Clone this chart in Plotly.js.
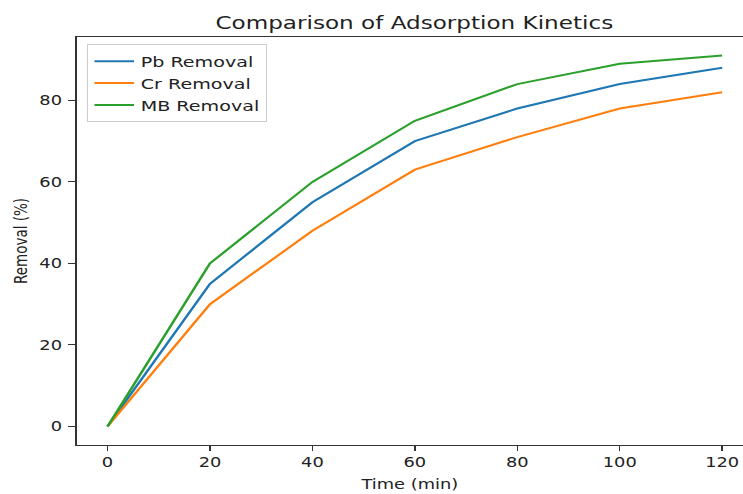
<!DOCTYPE html>
<html>
<head>
<meta charset="utf-8">
<script src="https://cdn.plot.ly/plotly-3.0.1.min.js"></script>
<style>
  html, body { margin: 0; padding: 0; background: #fff; overflow: hidden; }
  #wrap { width: 743px; height: 494px; overflow: hidden; }
  #chart { width: 563px; height: 494px; transform: scaleX(1.32); transform-origin: 0 0; }
</style>
</head>
<body>
<div id="wrap"><div id="chart"></div></div>
<script>
const time = [0, 20, 40, 60, 80, 100, 120];
const pbRemoval = [0, 35, 55, 70, 78, 84, 88];
const crRemoval = [0, 30, 48, 63, 71, 78, 82];
const mbRemoval = [0, 40, 60, 75, 84, 89, 91];
const seriesNames = ['Pb Removal', 'Cr Removal', 'MB Removal'];
const seriesColors = ['#1f77b4', '#ff7f0e', '#2ca02c'];
const xTicks = [0, 20, 40, 60, 80, 100, 120];
const yTicks = [0, 20, 40, 60, 80];

const FONT = 'DejaVu Sans, sans-serif';
const values = [pbRemoval, crRemoval, mbRemoval];
const traces = values.map((v, i) => ({
  x: time, y: v, type: 'scatter', mode: 'lines', name: seriesNames[i],
  line: { color: seriesColors[i], width: 2 }
}));

const layout = {
  width: 563, height: 494,
  margin: { l: 57.6, r: 0, t: 37, b: 49 },
  paper_bgcolor: '#fff', plot_bgcolor: '#fff',
  font: { family: FONT, size: 13.5, color: '#222' },
  title: {
    text: 'Comparison of Adsorption Kinetics',
    font: { family: FONT, size: 17.5, color: '#222' },
    xref: 'container', x: 0.5575, xanchor: 'center',
    yref: 'container', y: 1 - 23 / 494, yanchor: 'middle'
  },
  showlegend: true,
  legend: {
    x: 0.015, y: 0.982, xanchor: 'left', yanchor: 'top',
    bgcolor: '#fff', bordercolor: '#cccccc', borderwidth: 1,
    tracegroupgap: 0,
    font: { family: FONT, size: 14.5, color: '#222' }
  },
  xaxis: {
    range: [-6.05, 124.1], tickvals: xTicks, ticktext: xTicks.map(String),
    showgrid: false, zeroline: false,
    showline: true, linecolor: '#333', linewidth: 1, mirror: true,
    ticks: 'outside', ticklen: 5, tickcolor: '#333', tickwidth: 1,
    title: { text: 'Time (min)', font: { family: FONT, size: 13.5, color: '#222' }, standoff: 10 }
  },
  yaxis: {
    range: [-4.55, 95.55], tickvals: yTicks, ticktext: yTicks.map(String),
    showgrid: false, zeroline: false,
    showline: true, linecolor: '#333', linewidth: 1,
    ticks: 'outside', ticklen: 5.3, tickcolor: '#333', tickwidth: 1,
    ticklabelstandoff: 2,
    title: { text: 'Removal (%)', font: { family: FONT, size: 13.5, color: '#222' }, standoff: 5 }
  }
};

Plotly.newPlot('chart', traces, layout, { displayModeBar: false, staticPlot: true });
</script>
</body>
</html>
